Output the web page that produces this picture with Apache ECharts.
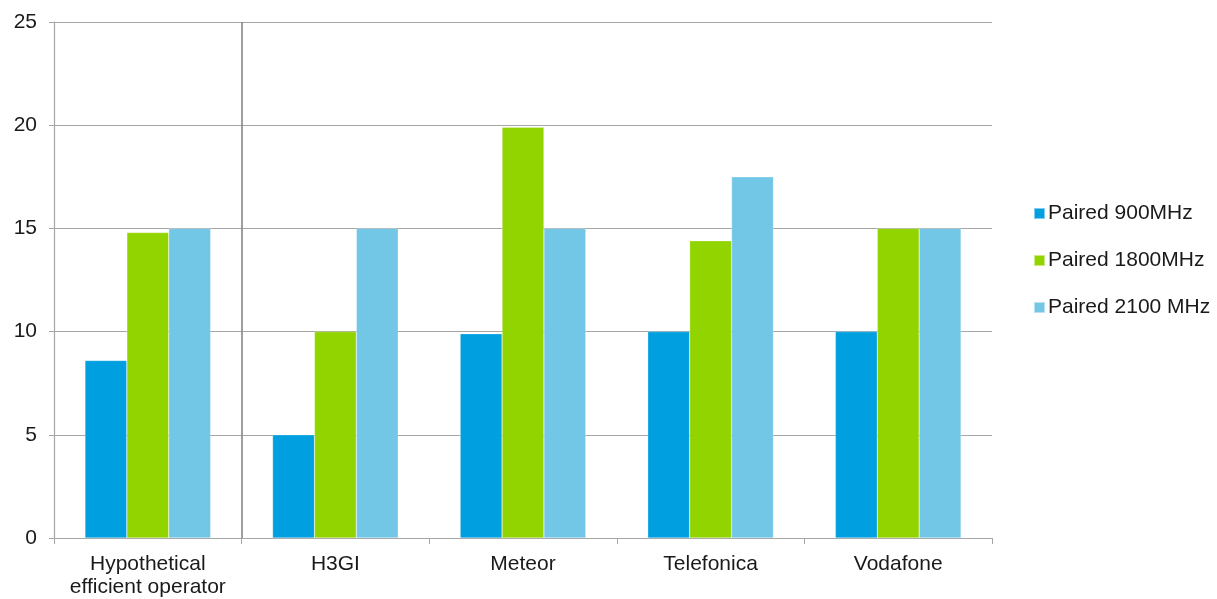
<!DOCTYPE html>
<html><head><meta charset="utf-8">
<script src="https://cdn.jsdelivr.net/npm/echarts@6/dist/echarts.min.js"></script>
<style>html,body{margin:0;padding:0;background:#fff;overflow:hidden}#c{width:1217px;height:599px}</style>
</head><body><div id="c"></div>
<script>
const categories = ["Hypothetical\nefficient operator", "H3GI", "Meteor", "Telefonica", "Vodafone"];
const paired900 = [8.6, 5, 9.9, 10, 10];
const paired1800 = [14.8, 10, 19.9, 14.4, 15];
const paired2100 = [15, 15, 15, 17.5, 15];
const seriesNames = ["Paired 900MHz", "Paired 1800MHz", "Paired 2100 MHz"];
const yTicks = [0, 5, 10, 15, 20, 25];
const separatorAfter = 1; // boundary after first category

const chart = echarts.init(document.getElementById('c'));
const font = '"Liberation Sans", Arial, sans-serif';
const colors = ['#009FDF', '#92D400', '#72C6E6'];
const mk = (name, data, i) => ({
  name, type: 'bar', data, barGap: '0%', barCategoryGap: '33%',
  itemStyle: { color: colors[i], borderColor: 'rgba(255,255,255,0.5)', borderWidth: 0.5 }
});
chart.setOption({
  animation: false,
  textStyle: { fontFamily: font },
  grid: { left: 54, right: 225, top: 22, bottom: 56, containLabel: false },
  legend: {
    orient: 'vertical', left: 1028, top: 198, itemGap: 26,
    itemWidth: 11, itemHeight: 11, icon: 'rect',
    textStyle: { fontFamily: font, fontSize: 21, color: '#1a1a1a', padding: [0, 0, 0, -2] },
    data: seriesNames
  },
  xAxis: [{
    type: 'category', data: categories,
    axisLine: { lineStyle: { color: '#a6a6a6', width: 1.2 } },
    axisTick: { show: true, length: 6, lineStyle: { color: '#a6a6a6' } },
    axisLabel: { fontFamily: font, fontSize: 21, color: '#1a1a1a', margin: 15, lineHeight: 23, interval: 0 },
    splitLine: { show: false }
  }, {
    type: 'value', min: 0, max: categories.length, show: false, position: 'bottom'
  }],
  yAxis: {
    type: 'value', min: yTicks[0], max: yTicks[yTicks.length - 1], interval: 5,
    axisLine: { show: true, lineStyle: { color: '#a6a6a6', width: 1.2 } },
    axisTick: { show: true, length: 5, lineStyle: { color: '#a6a6a6' } },
    axisLabel: { fontFamily: font, fontSize: 21, color: '#1a1a1a', margin: 17 },
    splitLine: { lineStyle: { color: '#a6a6a6', width: 1.2 } }
  },
  series: [mk(seriesNames[0], paired900, 0), mk(seriesNames[1], paired1800, 1), mk(seriesNames[2], paired2100, 2),
    { type: 'line', xAxisIndex: 1, data: [], silent: true,
      markLine: { symbol: 'none', silent: true, label: { show: false },
        lineStyle: { color: '#7f7f7f', width: 1.5, type: 'solid' },
        data: [[{ coord: [separatorAfter, yTicks[0]] }, { coord: [separatorAfter, yTicks[yTicks.length - 1]] }]] } }]
});
</script></body></html>
